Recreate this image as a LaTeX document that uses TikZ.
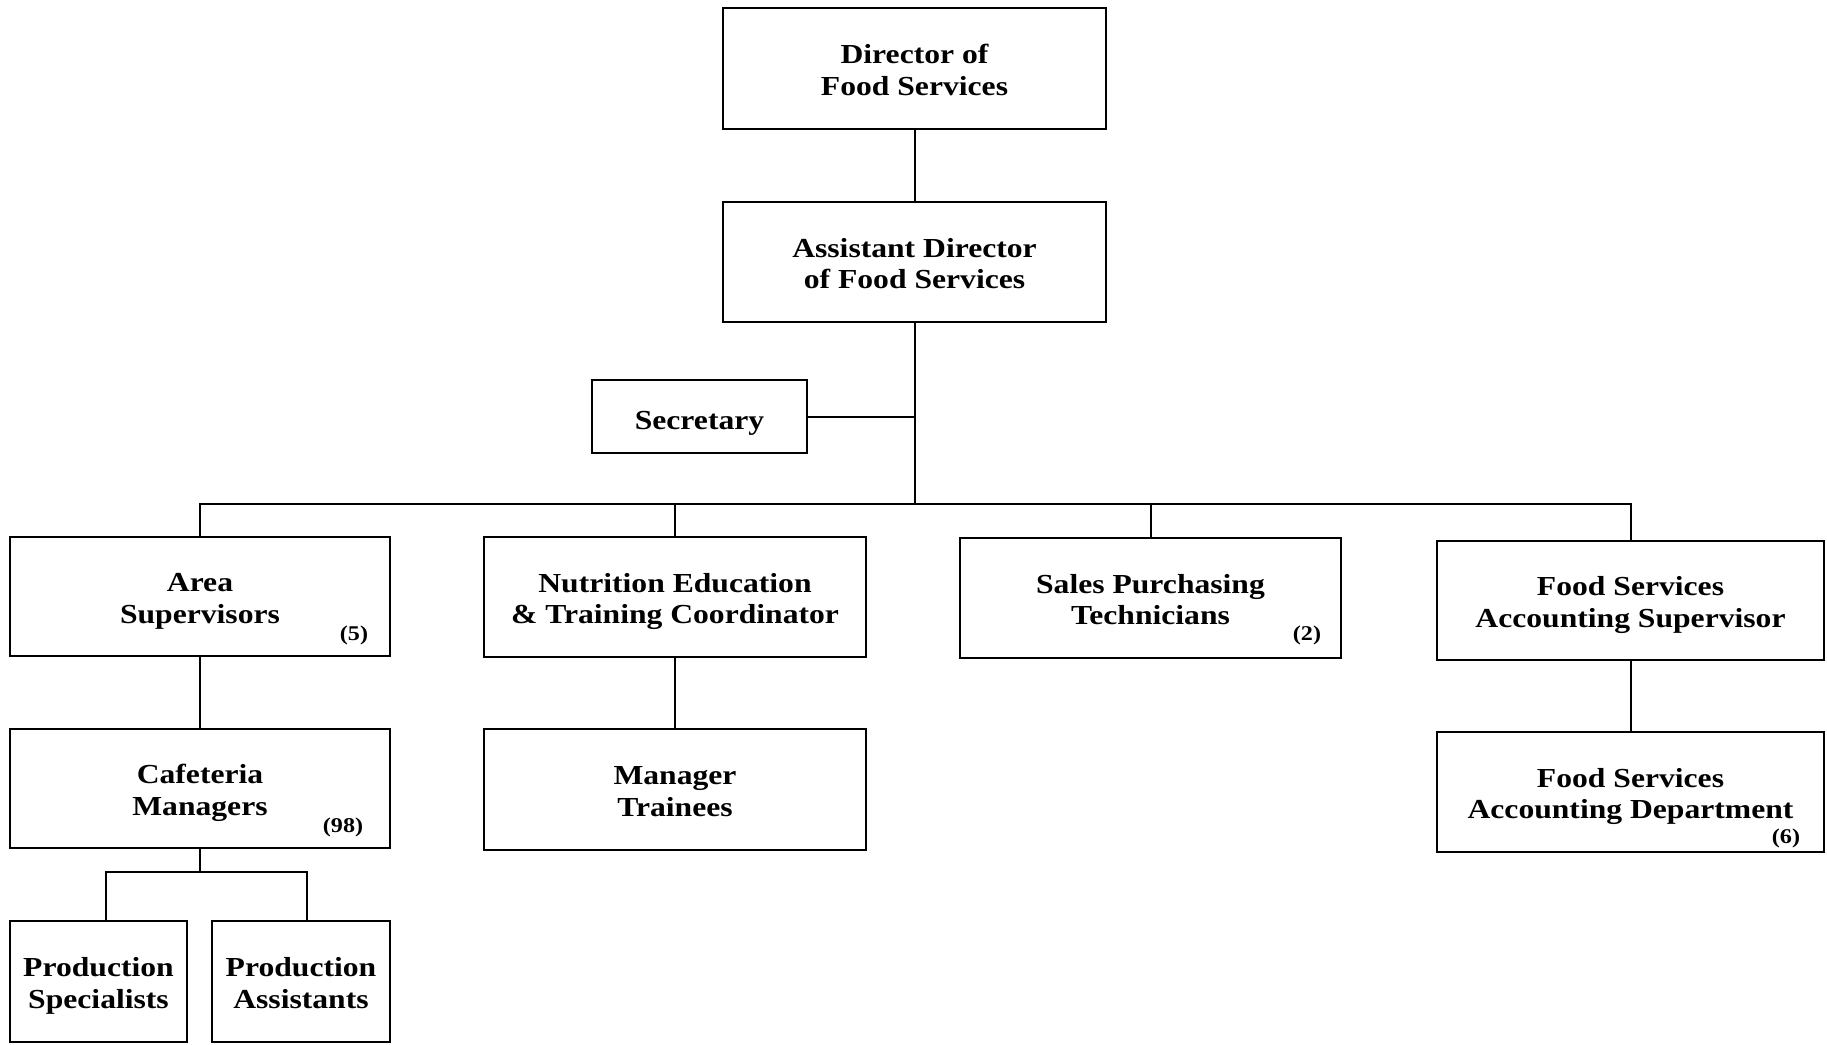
\documentclass[tikz,border=0pt]{standalone}
\usepackage{fontspec}
\setmainfont{Liberation Serif}[FakeStretch=1.15]
\begin{document}
\begin{tikzpicture}[x=1pt,y=-1pt,
  box/.style={draw, line width=2pt, align=center, inner sep=0pt,
    font=\bfseries\fontsize{27.5}{31.7}\selectfont,
    text height=53.6pt, text depth=0pt},
  cnt/.style={inner sep=0pt, font=\bfseries\fontsize{21}{24}\selectfont},
  link/.style={line width=2pt}]
\useasboundingbox (0,0) rectangle (1827,1044);

% top of the chart
\node[box, minimum width=383, minimum height=121] (dir) at (914.5,68.5) {Director of\\Food Services};
\node[box, minimum width=383, minimum height=120] (asst) at (914.5,262) {Assistant Director\\of Food Services};
\node[box, minimum width=215, minimum height=73, text height=26pt, text depth=0pt] (sec) at (699.5,416.5) {Secretary};

% second level
\node[box, minimum width=380, minimum height=119] (area) at (200,596.5) {Area\\Supervisors};
\node[box, minimum width=382, minimum height=120] (nut) at (675,597) {Nutrition Education\\\& Training Coordinator};
\node[box, minimum width=381, minimum height=120] (sales) at (1150.5,598) {Sales Purchasing\\Technicians};
\node[box, minimum width=387, minimum height=119] (fsas) at (1630.5,600.5) {Food Services\\Accounting Supervisor};

% third level
\node[box, minimum width=380, minimum height=119] (caf) at (200,788.5) {Cafeteria\\Managers};
\node[box, minimum width=382, minimum height=121] (mgr) at (675,789.5) {Manager\\Trainees};
\node[box, minimum width=387, minimum height=120] (dept) at (1630.5,792) {Food Services\\Accounting Department};

% fourth level
\node[box, minimum width=177, minimum height=121] (pspec) at (98.5,981.5) {Production\\Specialists};
\node[box, minimum width=178, minimum height=121] (passt) at (301,981.5) {Production\\Assistants};

% staff counts
\node[cnt] (n5) at (354,635) {(5)};
\node[cnt] (n98) at (343,827) {(98)};
\node[cnt] (n2) at (1307,635) {(2)};
\node[cnt] (n6) at (1786,838) {(6)};

% connectors
\coordinate (bus) at (914.5,504);
\coordinate (pl) at (106,872);
\coordinate (pr) at (307,872);
\draw[link] (dir.south) -- (asst.north);
\draw[link] (asst.south) -- (bus);
\draw[link] (sec.east) -- (sec.east -| bus);
\draw[link] (area.north) |- (bus) -| (fsas.north);
\draw[link] (nut.north) -- (nut.north |- bus);
\draw[link] (sales.north) -- (sales.north |- bus);
\draw[link] (area.south) -- (caf.north);
\draw[link] (nut.south) -- (mgr.north);
\draw[link] (fsas.south) -- (dept.north);
\draw[link] (caf.south) -- (caf.south |- pl);
\draw[link] (pspec.north -| pl) -- (pl) -- (pr) -- (passt.north -| pr);
\end{tikzpicture}
\end{document}
